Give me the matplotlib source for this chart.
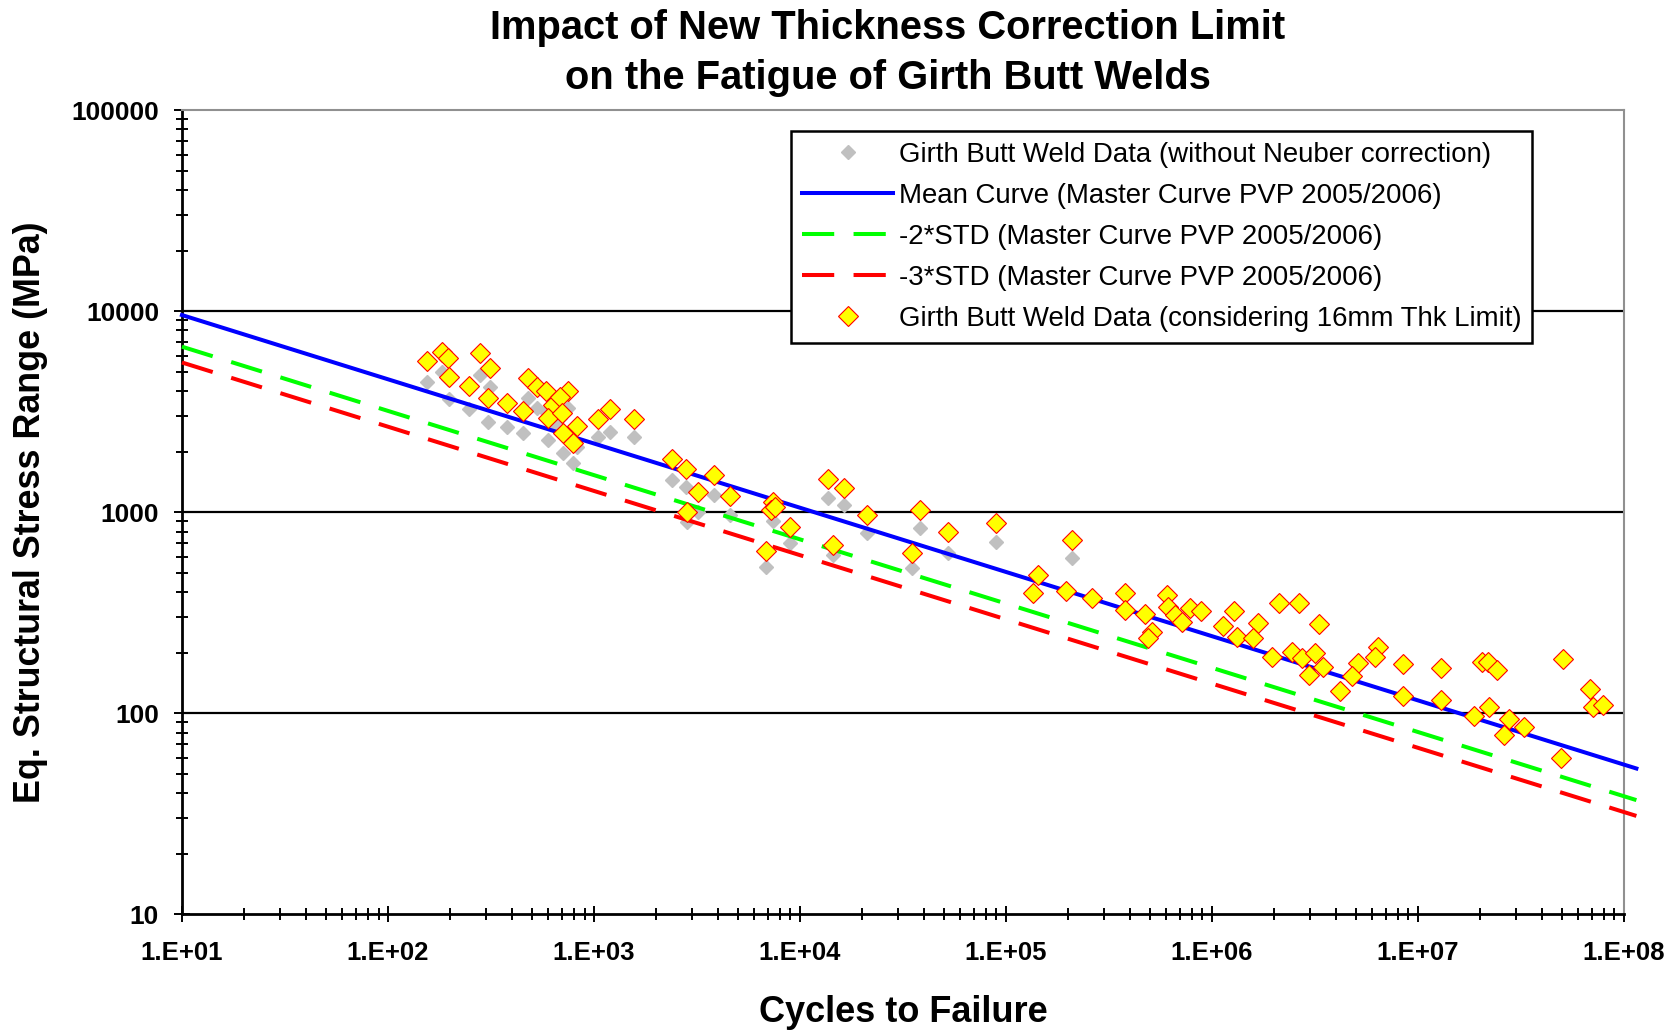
import matplotlib
matplotlib.use("Agg")
import matplotlib.pyplot as plt
from matplotlib.ticker import NullFormatter

plt.rcParams["font.family"] = ["Liberation Sans", "DejaVu Sans"]

# specimens: cycles, stress range without correction (gray), with 16mm limit (yellow)
cycles = [154, 182, 195, 198, 280, 313, 248, 307, 377, 451,
          480, 527, 582, 750, 634, 684, 600, 697, 705, 824,
          793, 1050, 1197, 1563, 2390, 2810, 3830, 3190, 4571, 2838,
          7413, 7278, 7600, 9000, 6808, 13710, 16360, 14490, 21280, 38280,
          35080, 52480, 89350, 208500, 143500, 135700, 196800, 260600, 378400, 378400,
          473200, 509500, 490000, 608300, 612400, 660700, 719800, 782400, 884500, 1283000,
          1135000, 1318000, 1679000, 1588000, 2124000, 2656000, 3321000, 1950000, 2438000, 2730000,
          3163000, 3447000, 2965000, 4178000, 5093000, 4763000, 6412000, 6180000, 8491000, 8491000,
          12940000, 12940000, 20370000, 21780000, 24340000, 18740000, 22180000, 27730000, 32800000, 26120000,
          50350000, 49430000, 68390000, 70470000, 79430000]
stress_orig = [4455, 4950, 4600, 3650, 4810, 4205, 3245, 2813, 2660, 2483,
               3680, 3300, 3150, 3280, 2700, 2950, 2280, 2450, 1960, 2100,
               1750, 2373, 2512, 2373, 1442, 1337, 1216, 1000, 967, 896,
               900, 1023, 1060, 700, 535, 1170, 1085, 611, 784, 830,
               525, 624, 713, 589, 484, 394, 406, 372, 397, 325,
               311, 254, 235, 386, 338, 307, 284, 332, 322, 323,
               271, 240, 279, 235, 352, 352, 276, 190, 202, 187,
               198, 170, 155, 128, 177, 152, 214, 191, 175, 121,
               168, 116, 180, 180, 164, 97, 107, 93, 85, 78,
               185, 60, 131, 107, 110]
stress_16mm = [5665, 6280, 5820, 4710, 6170, 5190, 4250, 3680, 3470, 3195,
               4620, 4200, 4010, 4010, 3405, 3750, 2925, 3105, 2465, 2682,
               2215, 2904, 3243, 2904, 1830, 1632, 1535, 1258, 1206, 995,
               1124, 1023, 1060, 840, 640, 1455, 1321, 685, 967, 1023,
               624, 793, 885, 726, 484, 394, 406, 372, 397, 325,
               311, 254, 235, 386, 338, 307, 284, 332, 322, 323,
               271, 240, 279, 235, 352, 352, 276, 190, 202, 187,
               198, 170, 155, 128, 177, 152, 214, 191, 175, 121,
               168, 116, 180, 180, 164, 97, 107, 93, 85, 78,
               185, 60, 131, 107, 110]

# master curve end points
curve_n = [10, 1.15e8]
mean_curve = [9549, 52.98]
minus2_curve = [6648, 36.88]
minus3_curve = [5547, 30.77]

x_ticks = [1e1, 1e2, 1e3, 1e4, 1e5, 1e6, 1e7, 1e8]
x_labels = ["1.E+01", "1.E+02", "1.E+03", "1.E+04", "1.E+05", "1.E+06", "1.E+07", "1.E+08"]
y_ticks = [10, 100, 1000, 10000, 100000]
y_labels = ["10", "100", "1000", "10000", "100000"]

fig = plt.figure(figsize=(16.8, 10.32), dpi=100)
ax = fig.add_axes([0.1083, 0.1143, 0.8583, 0.7791])
ax.set_xscale("log"); ax.set_yscale("log")
ax.set_xlim(10, 1e8); ax.set_ylim(10, 1e5)

for yv in y_ticks[1:-1]:
    ax.axhline(yv, color="black", lw=1.6, zorder=1)

ax.plot(cycles, stress_orig, ls="none", marker="D", ms=7.5, mfc="#c0c0c0", mec="#c0c0c0",
        zorder=2, label="Girth Butt Weld Data (without Neuber correction)")
ax.plot(curve_n, mean_curve, color="#0000ff", lw=2.9, zorder=3, clip_on=False,
        label="Mean Curve (Master Curve PVP 2005/2006)")
ax.plot(curve_n, minus2_curve, color="#00ff00", lw=2.9, dashes=(8, 4.8), zorder=3, clip_on=False,
        label="-2*STD (Master Curve PVP 2005/2006)")
ax.plot(curve_n, minus3_curve, color="#ff0000", lw=2.9, dashes=(8, 4.8), zorder=3, clip_on=False,
        label="-3*STD (Master Curve PVP 2005/2006)")
ax.plot(cycles, stress_16mm, ls="none", marker="D", ms=10, mfc="#ffff00", mec="#ff0000", mew=0.8,
        zorder=5, label="Girth Butt Weld Data (considering 16mm Thk Limit)")

ax.set_xticks(x_ticks, x_labels)
ax.set_yticks(y_ticks, y_labels)
ax.xaxis.set_minor_formatter(NullFormatter())
ax.yaxis.set_minor_formatter(NullFormatter())
ax.tick_params(which="both", direction="inout", width=1.4, color="black")
ax.tick_params(which="major", length=11)
ax.tick_params(which="minor", length=8)
ax.tick_params(axis="x", which="major", pad=14, labelsize=18.5)
ax.tick_params(axis="y", which="major", pad=11, labelsize=19)
for lab in ax.get_xticklabels() + ax.get_yticklabels():
    lab.set_fontweight("bold")

for side in ["left", "bottom"]:
    ax.spines[side].set_linewidth(2.0)
    ax.spines[side].set_color("black")
for side in ["top", "right"]:
    ax.spines[side].set_linewidth(1.5)
    ax.spines[side].set_color("#909090")

ax.set_xlabel("Cycles to Failure", fontsize=26, fontweight="bold", va="center")
ax.xaxis.set_label_coords(0.5, -0.122)
ax.set_ylabel("Eq. Structural Stress Range (MPa)", fontsize=25.8, fontweight="bold", va="center")
ax.yaxis.set_label_coords(-0.105, 0.5)

fig.text(888 / 1680, 1 - 53 / 1032, "Impact of New Thickness Correction Limit\non the Fatigue of Girth Butt Welds",
         ha="center", va="center", fontsize=28.7, fontweight="bold", linespacing=1.42)

leg = ax.legend(loc="upper left", bbox_to_anchor=(791 / 1680, 1 - 131 / 1032), bbox_transform=fig.transFigure,
                borderaxespad=0, fontsize=19.9, handlelength=3.3, handletextpad=0.2, labelspacing=0.54,
                borderpad=0.4, fancybox=False, framealpha=1, edgecolor="black")
leg.get_frame().set_linewidth(1.8)

fig.savefig("out.png", dpi=100)
